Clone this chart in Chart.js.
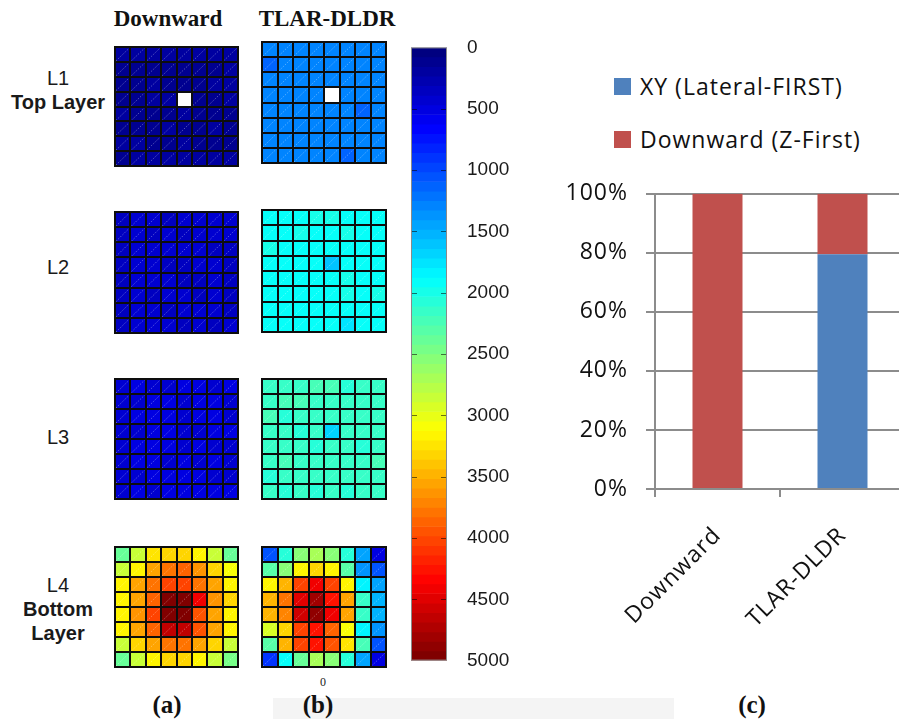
<!DOCTYPE html>
<html>
<head>
<meta charset="utf-8">
<script src="https://cdn.jsdelivr.net/npm/chart.js@4.4.0/dist/chart.umd.min.js"></script>
<style>
  html, body { margin: 0; padding: 0; background: #fff; }
  #stage { position: relative; width: 899px; height: 719px; overflow: hidden; background: #fff; }
  .abs { position: absolute; }
  canvas.abs { display: block; }
  .title { font: bold 23px "Liberation Serif", "DejaVu Serif", serif; color: #111; white-space: nowrap; transform: translateX(-50%); line-height: 28px; }
  .rowlab { font: 20px "Liberation Sans", Arial, sans-serif; color: #1a1a1a; text-align: center; white-space: nowrap; transform: translateX(-50%); line-height: 24px; }
  .rowlab b { font-weight: bold; }
  .cap { font: bold 25px "Liberation Serif", "DejaVu Serif", serif; color: #111; white-space: nowrap; transform: translateX(-50%); line-height: 28px; }
  .legend-item { position: absolute; left: 614px; height: 24px; display: flex; align-items: center; font: 23px "Open Sans", sans-serif; letter-spacing: 1px; color: #111; white-space: nowrap; }
  .legend-item i { display: inline-block; width: 17px; height: 17px; margin-right: 9px; }
</style>
</head>
<body>
<div id="stage">
  <div class="abs title" style="left:168px; top:5px;">Downward</div>
  <div class="abs title" style="left:327px; top:5px;">TLAR-DLDR</div>

  <div class="abs rowlab" style="left:58px; top:66px;">L1<br><b>Top Layer</b></div>
  <div class="abs rowlab" style="left:58px; top:255px;">L2</div>
  <div class="abs rowlab" style="left:58px; top:425px;">L3</div>
  <div class="abs rowlab" style="left:58px; top:573px;">L4<br><b>Bottom</b><br><b>Layer</b></div>

  <div class="abs" style="left:273px; top:698px; width:401px; height:21px; background:#f4f4f4;"></div>
  <div class="abs cap" style="left:167px; top:691px;">(a)</div>
  <div class="abs cap" style="left:318px; top:691px;">(b)</div>
  <div class="abs cap" style="left:752px; top:691px;">(c)</div>
  <div class="abs" style="left:320px; top:675px; font:12px 'Liberation Serif',serif; color:#222;">0</div>

  <canvas id="dL1" class="abs"></canvas>
  <canvas id="tL1" class="abs"></canvas>
  <canvas id="dL2" class="abs"></canvas>
  <canvas id="tL2" class="abs"></canvas>
  <canvas id="dL3" class="abs"></canvas>
  <canvas id="tL3" class="abs"></canvas>
  <canvas id="dL4" class="abs"></canvas>
  <canvas id="tL4" class="abs"></canvas>
  <canvas id="colorbar" class="abs"></canvas>
  <canvas id="share" class="abs"></canvas>
  <div id="legend"></div>
</div>

<script>
// ---- per-router load (packets) for every layer, 8x8 mesh, row 0 = top row ----
// null marks the router without a value (drawn white)
const downwardL1 = [
  [200, 180, 170, 190, 160, 180, 170, 210],
  [150, 120, 140, 130, 110, 130, 150, 180],
  [110, 140, 160, 150, 120, 140, 160, 170],
  [130, 150, 170, 170, null, 140, 150, 160],
  [160, 140, 120, 130, 180, 150, 120, 130],
  [150, 130, 140, 160, 140, 130, 160, 140],
  [170, 160, 150, 140, 160, 150, 140, 150],
  [140, 170, 180, 160, 170, 190, 160, 180]
];
const tlarL1 = [
  [1262, 1270, 1255, 1280, 1265, 1272, 1258, 1284],
  [1120, 1262, 1270, 1258, 1250, 1268, 1260, 1275],
  [1270, 1258, 1282, 1268, 1262, 1280, 1270, 1260],
  [1260, 1272, 1262, 1270, null, 1258, 1284, 1268],
  [1262, 1280, 1270, 1258, 1250, 1272, 1140, 1262],
  [1272, 1260, 1270, 1284, 1262, 1270, 1258, 1280],
  [1260, 1272, 1258, 1270, 1282, 1260, 1270, 1258],
  [1270, 1258, 1284, 1262, 1270, 1130, 1262, 1272]
];
const downwardL2 = [
  [380, 420, 400, 390, 410, 420, 400, 430],
  [360, 410, 390, 420, 380, 400, 430, 420],
  [350, 400, 430, 410, 420, 400, 390, 380],
  [370, 400, 420, 390, 360, 410, 400, 390],
  [360, 430, 410, 400, 380, 390, 420, 350],
  [370, 400, 390, 410, 420, 390, 400, 340],
  [360, 420, 410, 390, 400, 420, 410, 380],
  [380, 400, 430, 420, 380, 410, 390, 420]
];
const tlarL2 = [
  [1910, 1900, 1920, 2010, 2000, 1905, 1915, 1900],
  [1920, 1910, 2000, 1915, 1900, 2010, 1910, 1905],
  [2030, 1905, 1915, 1900, 1910, 1905, 1920, 1910],
  [1900, 1915, 1905, 1910, 1590, 1915, 1905, 1910],
  [1910, 1905, 1920, 1910, 1905, 1990, 1915, 1900],
  [1905, 1910, 1900, 1915, 1910, 2000, 1905, 2020],
  [1915, 1900, 1910, 1905, 1915, 1910, 1900, 1910],
  [1900, 1910, 1905, 1915, 1900, 1760, 1910, 1905]
];
const downwardL3 = [
  [440, 470, 460, 450, 470, 480, 460, 490],
  [420, 460, 470, 480, 450, 500, 470, 460],
  [430, 490, 500, 470, 460, 480, 470, 450],
  [400, 440, 470, 480, 430, 460, 470, 490],
  [420, 500, 480, 470, 460, 490, 450, 440],
  [430, 470, 490, 460, 480, 460, 470, 450],
  [420, 460, 470, 480, 470, 480, 460, 450],
  [440, 470, 460, 480, 490, 470, 480, 500]
];
const tlarL3 = [
  [2140, 2150, 2140, 2230, 2240, 2060, 2150, 2140],
  [2140, 2230, 2220, 2150, 2140, 2150, 2140, 2150],
  [2250, 2060, 2140, 2150, 2140, 2150, 2140, 2150],
  [2150, 2140, 2070, 2150, 1680, 2140, 2150, 2140],
  [2140, 2150, 2140, 2060, 2150, 2140, 2070, 2150],
  [2150, 2230, 2140, 2150, 2140, 2150, 2140, 2240],
  [2060, 2140, 2150, 2140, 2150, 2140, 2150, 2140],
  [2150, 2070, 2140, 2060, 2150, 2060, 2140, 2150]
];
const downwardL4 = [
  [2360, 2850, 3250, 3350, 3300, 3200, 2870, 2400],
  [2850, 3200, 3540, 3790, 3840, 3640, 3350, 3050],
  [3150, 3540, 3790, 4030, 4030, 3790, 3540, 3200],
  [3150, 3590, 3890, 4990, 4990, 4420, 3640, 3350],
  [3200, 3640, 4030, 4990, 5000, 3950, 3590, 3200],
  [3150, 3540, 3890, 4650, 4650, 3950, 3540, 3150],
  [2870, 3350, 3590, 3790, 3790, 3590, 3350, 2870],
  [2400, 2850, 3200, 3350, 3350, 3200, 2870, 2450]
];
const tlarL4 = [
  [1020, 2070, 2500, 2660, 2550, 2100, 1410, 500],
  [2330, 2500, 3200, 3350, 3200, 2270, 1360, 1020],
  [3200, 3440, 4030, 4375, 4030, 3200, 1800, 1410],
  [3440, 3790, 4500, 4790, 4280, 3540, 2150, 1560],
  [3440, 3700, 4560, 4890, 4400, 3540, 2150, 1560],
  [2960, 3350, 4030, 4280, 3890, 3050, 1800, 1360],
  [2270, 3440, 4030, 4280, 3950, 3250, 2200, 1065],
  [920, 1880, 2400, 2660, 2500, 2100, 1410, 500]
];
const meshColumns = ['1', '2', '3', '4', '5', '6', '7', '8'];

// colour scale
const loadMin = 0;
const loadMax = 5000;
const loadStep = 500;
const levelCount = 64;

// ---- share of packets by routing direction ----
const routingSchemes = ['Downward', 'TLAR-DLDR'];
const seriesNames = ['XY (Lateral-FIRST)', 'Downward (Z-First)'];
const xyShare = [0, 79.5];
const zFirstShare = [100, 20.5];
const seriesColors = ['#4F81BD', '#C0504D'];

// jet colour map, quantised into levelCount bands
function jetLevel(i) {
  const q = i / (levelCount - 1);
  const c = v => Math.round(255 * Math.min(1, Math.max(0, v)));
  const r = c(1.5 - Math.abs(4 * q - 3));
  const g = c(1.5 - Math.abs(4 * q - 2));
  const b = c(1.5 - Math.abs(4 * q - 1));
  return `rgb(${r},${g},${b})`;
}
function jetColor(v) {
  if (v === null || v === undefined) return '#ffffff';
  const t = (v - loadMin) / (loadMax - loadMin);
  const i = Math.min(levelCount - 1, Math.max(0, Math.floor(t * levelCount)));
  return jetLevel(i);
}

// dotted diagonal inside each cell, then the black mesh lines on the cell boundaries
const meshLines = {
  id: 'meshLines',
  afterDatasetsDraw(chart) {
    const ctx = chart.ctx;
    const xs = chart.scales.x, ys = chart.scales.y;
    ctx.save();
    ctx.strokeStyle = 'rgba(255,255,255,0.33)';
    ctx.lineWidth = 1;
    ctx.setLineDash([1.5, 1.5]);
    chart.data.datasets.forEach((ds, di) => {
      chart.getDatasetMeta(di).data.forEach(el => {
        const p = el.getProps(['x', 'y', 'base', 'width'], true);
        const top = Math.min(p.y, p.base), bottom = Math.max(p.y, p.base);
        ctx.beginPath();
        ctx.moveTo(p.x - p.width / 2 + 1, bottom - 1);
        ctx.lineTo(p.x + p.width / 2 - 1, top + 1);
        ctx.stroke();
      });
    });
    ctx.setLineDash([]);
    ctx.strokeStyle = '#0d0d0d';
    ctx.lineWidth = 2;
    const nCols = chart.data.labels.length;
    const half = (xs.getPixelForValue(1) - xs.getPixelForValue(0)) / 2;
    const yTop = ys.getPixelForValue(ys.min), yBot = ys.getPixelForValue(ys.max);
    ctx.beginPath();
    for (let i = 0; i <= nCols; i++) {
      const px = Math.round(xs.getPixelForValue(i) - half);
      ctx.moveTo(px, yTop - 1); ctx.lineTo(px, yBot + 1);
    }
    const xL = xs.getPixelForValue(0) - half, xR = xs.getPixelForValue(nCols) - half;
    for (let r = ys.min; r <= ys.max; r++) {
      const py = Math.round(ys.getPixelForValue(r));
      ctx.moveTo(xL - 1, py); ctx.lineTo(xR + 1, py);
    }
    ctx.stroke();
    ctx.restore();
  }
};

function makeMesh(id, grid, rect) {
  const cv = document.getElementById(id);
  cv.width = rect.w + 2;
  cv.height = rect.h + 2;
  cv.style.left = (rect.x - 1) + 'px';
  cv.style.top = (rect.y - 1) + 'px';
  const datasets = grid.map((row, r) => ({
    data: row.map(() => [r, r + 1]),
    backgroundColor: row.map(v => jetColor(v)),
    borderWidth: 0
  }));
  new Chart(cv, {
    type: 'bar',
    data: { labels: meshColumns, datasets },
    options: {
      responsive: false,
      animation: false,
      events: [],
      layout: { padding: 1 },
      datasets: { bar: { categoryPercentage: 1, barPercentage: 1, grouped: false } },
      plugins: { legend: { display: false }, tooltip: { enabled: false } },
      scales: {
        x: { display: false },
        y: { display: false, reverse: true, min: 0, max: grid.length }
      }
    },
    plugins: [meshLines]
  });
}

makeMesh('dL1', downwardL1, { x: 115, y: 47, w: 123, h: 119 });
makeMesh('tL1', tlarL1, { x: 262, y: 42, w: 124, h: 121 });
makeMesh('dL2', downwardL2, { x: 115, y: 212, w: 123, h: 121 });
makeMesh('tL2', tlarL2, { x: 262, y: 210, w: 124, h: 122 });
makeMesh('dL3', downwardL3, { x: 115, y: 379, w: 123, h: 120 });
makeMesh('tL3', tlarL3, { x: 262, y: 379, w: 124, h: 120 });
makeMesh('dL4', downwardL4, { x: 115, y: 547, w: 123, h: 120 });
makeMesh('tL4', tlarL4, { x: 262, y: 547, w: 124, h: 120 });

// ---- colour bar ----
const cbTicks = {
  id: 'cbTicks',
  afterDatasetsDraw(chart) {
    const ctx = chart.ctx, a = chart.chartArea, ys = chart.scales.y;
    ctx.save();
    ctx.strokeStyle = 'rgba(0,0,0,0.55)';
    ctx.lineWidth = 1;
    for (let v = loadMin + loadStep; v < loadMax; v += loadStep) {
      const py = Math.round(ys.getPixelForValue(v)) + 0.5;
      ctx.beginPath();
      ctx.moveTo(a.left, py); ctx.lineTo(a.left + 6, py);
      ctx.moveTo(a.right - 6, py); ctx.lineTo(a.right, py);
      ctx.stroke();
    }
    ctx.strokeStyle = '#8a8a8a';
    ctx.strokeRect(a.left + 0.5, a.top + 0.5, a.right - a.left - 1, a.bottom - a.top - 1);
    ctx.restore();
  }
};
(function () {
  const cv = document.getElementById('colorbar');
  cv.width = 140; cv.height = 676;
  cv.style.left = '400px'; cv.style.top = '16px';
  const band = (loadMax - loadMin) / levelCount;
  const datasets = [];
  for (let i = 0; i < levelCount; i++) {
    datasets.push({
      data: [[loadMin + i * band, loadMin + (i + 1) * band]],
      backgroundColor: jetLevel(i),
      borderWidth: 0
    });
  }
  new Chart(cv, {
    type: 'bar',
    data: { labels: [''], datasets },
    options: {
      responsive: false,
      animation: false,
      events: [],
      layout: { padding: { left: 11, top: 2, bottom: 3, right: 0 } },
      datasets: { bar: { categoryPercentage: 1, barPercentage: 1, grouped: false } },
      plugins: { legend: { display: false }, tooltip: { enabled: false } },
      scales: {
        x: { display: false },
        y: {
          position: 'right',
          reverse: true,
          min: loadMin, max: loadMax,
          afterFit(s) { s.width = 93; },
          grid: { drawOnChartArea: false, drawTicks: false },
          border: { display: false },
          ticks: {
            stepSize: loadStep,
            padding: 20,
            color: '#1a1a1a',
            font: { family: 'Liberation Sans', size: 19 },
            callback: v => String(v)
          }
        }
      }
    },
    plugins: [cbTicks]
  });
})();

// ---- stacked share chart ----
const wideText = {
  id: 'wideText',
  beforeDraw(chart) { chart.ctx.letterSpacing = '1px'; }
};
(function () {
  const cv = document.getElementById('share');
  cv.width = 380; cv.height = 557;
  cv.style.left = '540px'; cv.style.top = '162px';
  const axisGray = '#8c8c8c';
  const chart = new Chart(cv, {
    type: 'bar',
    data: {
      labels: routingSchemes,
      datasets: [
        { label: seriesNames[0], data: xyShare, backgroundColor: seriesColors[0], borderWidth: 0 },
        { label: seriesNames[1], data: zFirstShare, backgroundColor: seriesColors[1], borderWidth: 0 }
      ]
    },
    options: {
      responsive: false,
      animation: false,
      events: [],
      layout: { padding: { top: 15, right: 15, left: 0, bottom: 0 } },
      datasets: { bar: { categoryPercentage: 1, barPercentage: 0.4 } },
      plugins: { legend: { display: false }, tooltip: { enabled: false } },
      scales: {
        x: {
          stacked: true,
          afterFit(s) { s.height = 230; },
          grid: { drawOnChartArea: false, drawTicks: true, tickLength: 8, color: axisGray, lineWidth: 2 },
          border: { color: axisGray, width: 2 },
          ticks: {
            minRotation: 45, maxRotation: 45, padding: 25,
            color: '#111',
            font: { family: 'Open Sans', size: 23 }
          }
        },
        y: {
          stacked: true,
          min: 0, max: 100,
          afterFit(s) { s.width = 115; },
          grid: { color: axisGray, lineWidth: 2, tickLength: 9 },
          border: { color: axisGray, width: 2 },
          ticks: {
            stepSize: 20,
            padding: 18,
            color: '#111',
            font: { family: 'Open Sans', size: 23 },
            callback: v => v + '%'
          }
        }
      }
    },
    plugins: [wideText]
  });
  // legend rows built from the datasets
  const lg = document.getElementById('legend');
  const rowsY = [74, 127];
  chart.data.datasets.forEach((ds, i) => {
    const item = document.createElement('div');
    item.className = 'legend-item';
    item.style.top = rowsY[i] + 'px';
    const sw = document.createElement('i');
    sw.style.background = ds.backgroundColor;
    item.appendChild(sw);
    item.appendChild(document.createTextNode(ds.label));
    lg.appendChild(item);
  });
})();
</script>
</body>
</html>
